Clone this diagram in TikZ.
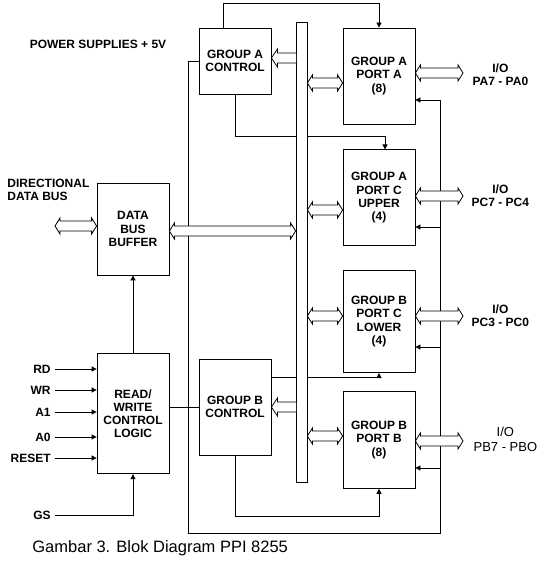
\documentclass[tikz,border=0pt]{standalone}
\usepackage{fontspec}
\setmainfont{Liberation Sans}
\usetikzlibrary{arrows.meta,calc,positioning}

\newcommand\blkfont{\fontsize{12}{13.2}\selectfont\bfseries}

\tikzset{
  block/.style={draw, align=center, minimum width=72pt, inner sep=0pt, font=\blkfont},
  lbl/.style={align=center, inner sep=2pt, font=\blkfont},
  io/.style={lbl, anchor=west, minimum width=74pt, inner sep=0pt},
  fatbus/.style={draw, fill=white, to path={let \p1=(\tikztostart), \p2=(\tikztotarget) in
    (\p1) -- (\x1+5pt,\y1+8pt) -- (\x1+5pt,\y1+5pt) -- (\x2-5pt,\y2+5pt) -- (\x2-5pt,\y2+8pt) -- (\p2)
    -- (\x2-5pt,\y2-8pt) -- (\x2-5pt,\y2-5pt) -- (\x1+5pt,\y1-5pt) -- (\x1+5pt,\y1-8pt) -- cycle}},
  busin/.style={draw, fill=white, to path={let \p1=(\tikztostart), \p2=(\tikztotarget) in
    (\x1+0.5pt,\y1+5pt) -- (\x2+6pt,\y2+5pt) -- (\x2+6pt,\y2+9pt) -- (\p2)
    -- (\x2+6pt,\y2-9pt) -- (\x2+6pt,\y2-5pt) -- (\x1+0.5pt,\y1-5pt)}}
}

\begin{document}
\begin{tikzpicture}[x=1pt,y=-1pt,line width=0.8pt,>={Triangle[length=5pt,width=5pt]}]
    \useasboundingbox (0,0) rectangle (540,561);
    \node[block, minimum height=66pt] (gac) at (235,61) {GROUP A\\CONTROL};
    \node[block, minimum height=96pt] (gbc) at (235,407) {GROUP B\\CONTROL};
    \node[block, minimum height=92pt] (dbb) at (133,229) {DATA\\BUS\\BUFFER};
    \node[block, minimum height=120pt, below=78pt of dbb] (rw) {READ/\\WRITE\\CONTROL\\LOGIC};
    \node[block, minimum height=96pt] (pa) at (379,76) {GROUP A\\PORT A\\(8)};
    \node[block, minimum height=96pt, below=25pt of pa] (pcu) {GROUP A\\PORT C\\UPPER\\(4)};
    \node[block, minimum height=102pt, below=24pt of pcu] (pcl) {GROUP B\\PORT C\\LOWER\\(4)};
    \node[block, minimum height=97pt, below=18pt of pcl] (pb) {GROUP B\\PORT B\\(8)};

    \node[lbl] (pwr) at (98,44) {POWER SUPPLIES + 5V};
    \node[lbl, align=left, anchor=north west] (ddb) at (5,177) {DIRECTIONAL\\DATA BUS};
    \node[io] (ioa) at (463,74.5) {I/O\\PA7 - PA0};
    \node[io] (iocu) at (463,196) {I/O\\PC7 - PC4};
    \node[io] (iocl) at (463,316) {I/O\\PC3 - PC0};
    \node[io, minimum width=84pt, font=\fontsize{13}{15}\selectfont] (iob) at (463,439.5) {I/O\\PB7 - PBO};
    \node[font=\fontsize{16.5}{18}\selectfont, anchor=west, inner sep=0pt] (cap) at (32,548) {Gambar 3. Blok Diagram PPI 8255};

    \foreach \nm/\txt/\yy in {rd/RD/369, wr/WR/390, aone/A1/412, azero/A0/437, rst/RESET/458}{
        \node[lbl, anchor=east, inner xsep=4pt] (\nm) at (55,\yy) {\txt};
        \draw[->] (\nm.east) -- (\nm.east -| rw.west);
    }
    \node[lbl, anchor=east, inner xsep=4pt] (gs) at (55,515) {GS};
    \draw[->] (gs.east) -| (rw.south);
    \draw[->] (rw.north) -- (dbb.south);
    \draw (gbc.west -| rw.east) -- (gbc.west);

    \draw[->] ([xshift=-12pt]gac.north) -- ++(0,-24) -| (pa.north);
    \draw[->] (gac.south) -- ++(0,42) -| ([xshift=6pt]pcu.north);
    \draw[->] (gbc.east |- 0,377) -| (pcl.south);
    \draw[->] (gbc.south) -- ++(0,61) -| (pb.south);

    \coordinate (gnd) at (188,533);
    \coordinate (rail) at (440,533);
    \draw[->] (gac.west) -| (gnd) -- (rail) |- (pa.east |- 0,100);
    \foreach \prt/\yy in {pcu/227, pcl/347, pb/468}
        \draw[->] (rail |- 0,\yy) -- (\prt.east |- 0,\yy);

    \node[draw, fill=white, minimum width=11pt, minimum height=460pt, inner sep=0pt] (bus) at (301.5,252) {};

    \coordinate (dext) at (55,226);
    \draw[fatbus] (dext) to (dext -| dbb.west);
    \draw[fatbus] (dbb.east |- 0,231) to (bus.west |- 0,231);
    \foreach \prt/\yy in {pa/83, pcu/210, pcl/316, pb/436}
        \draw[fatbus] (bus.east |- 0,\yy) to (\prt.west |- 0,\yy);
    \foreach \prt/\lb/\yy in {pa/ioa/73, pcu/iocu/196, pcl/iocl/316, pb/iob/441}
        \draw[fatbus] (\prt.east |- 0,\yy) to (\lb.west |- 0,\yy);
    \draw[busin] (bus.west |- 0,58) to (gac.east |- 0,58);
    \draw[busin] (bus.west |- gbc.east) to (gbc.east);
\end{tikzpicture}
\end{document}
